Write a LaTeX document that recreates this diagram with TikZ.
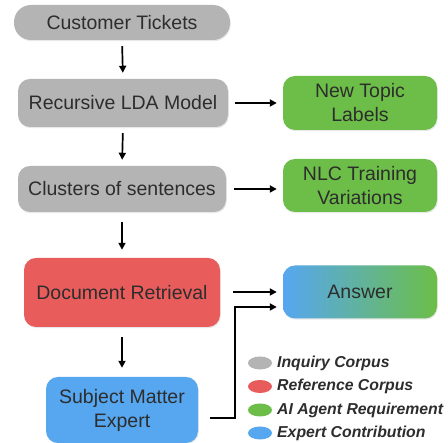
\documentclass[tikz,border=0pt]{standalone}
\usepackage{fontspec}
\setmainfont{Liberation Sans}
\usetikzlibrary{arrows.meta,shadows,shapes.geometric}
\definecolor{cgray}{RGB}{180,180,180}
\definecolor{cred}{RGB}{233,92,92}
\definecolor{cgreen}{RGB}{108,190,72}
\definecolor{cblue}{RGB}{86,167,240}
\definecolor{ctext}{RGB}{45,45,45}
\tikzset{
  box/.style={rounded corners=12pt, align=center, text=ctext, inner sep=0pt,
    font=\fontsize{19.5}{24}\selectfont,
    drop shadow={opacity=0.18, shadow xshift=0.8pt, shadow yshift=-1.2pt}},
  arr/.style={line width=1.7pt, -{Triangle[length=7pt,width=7pt]}},
  leg/.style={ellipse, minimum width=24pt, minimum height=13pt, inner sep=0pt},
  legtext/.style={anchor=west, font=\fontsize{15.8}{18}\selectfont\bfseries\itshape, text=ctext, inner sep=0pt}
}
\begin{document}
\begin{tikzpicture}[x=1pt,y=1pt]
\useasboundingbox[fill=white] (0,0) rectangle (448,443);
\node[box, fill=cgray, minimum width=216pt, minimum height=35pt, rounded corners=17pt] (ct) at (122,420.5) {Customer Tickets};
\node[box, fill=cgray, minimum width=210pt, minimum height=48pt] (lda) at (123,340) {Recursive LDA Model};
\node[box, fill=cgreen, minimum width=154pt, minimum height=54pt] (ntl) at (360,340) {New Topic\\Labels};
\node[box, fill=cgray, minimum width=208pt, minimum height=46pt] (cl) at (122,254) {Clusters of sentences};
\node[box, fill=cgreen, minimum width=154pt, minimum height=53pt] (nlc) at (360,257.5) {NLC Training\\Variations};
\node[box, fill=cred, minimum width=196pt, minimum height=69pt] (dr) at (122,150.5) {Document Retrieval};
\node[box, left color=cblue, right color=cgreen, minimum width=154pt, minimum height=53pt] (ans) at (360,151) {Answer};
\node[box, fill=cblue, minimum width=152pt, minimum height=66pt] (sme) at (122,33) {Subject Matter\\Expert};

\draw[arr, shorten <=6pt, shorten >=6pt] (ct.south) -- (lda.north);
\draw[arr, shorten <=6pt, shorten >=6pt] (lda.south) -- (cl.north);
\draw[arr, shorten <=10pt, shorten >=8pt] (cl.south) -- (dr.north);
\draw[arr, shorten <=10pt, shorten >=9pt] (dr.south) -- (sme.north);
\draw[arr, shorten <=7pt, shorten >=6pt] (lda.east) -- (ntl.west);
\draw[arr, shorten <=8pt, shorten >=6pt] (cl.east) -- (ntl.west |- cl.east);
\draw[arr, shorten <=13pt, shorten >=6pt] (dr.east |- ans.west) -- (ans.west);
\coordinate (e1) at ([xshift=12pt,yshift=-8pt]sme.east);
\coordinate (e2) at ([xshift=-6pt,yshift=-15pt]ans.west);
\draw[arr] (e1) -- ++(25,0) coordinate (e3) |- (e2);

\node[leg, fill=cgray] (l1) at (260,80) {};
\node[leg, fill=cred] (l2) at (260,56.5) {};
\node[leg, fill=cgreen] (l3) at (260,33) {};
\node[leg, fill=cblue] (l4) at (260,10) {};
\node[legtext] (t1) at (277,80) {Inquiry Corpus};
\node[legtext] (t2) at (277,56.5) {Reference Corpus};
\node[legtext] (t3) at (277,33) {AI Agent Requirement};
\node[legtext] (t4) at (277,10) {Expert Contribution};
\end{tikzpicture}
\end{document}
